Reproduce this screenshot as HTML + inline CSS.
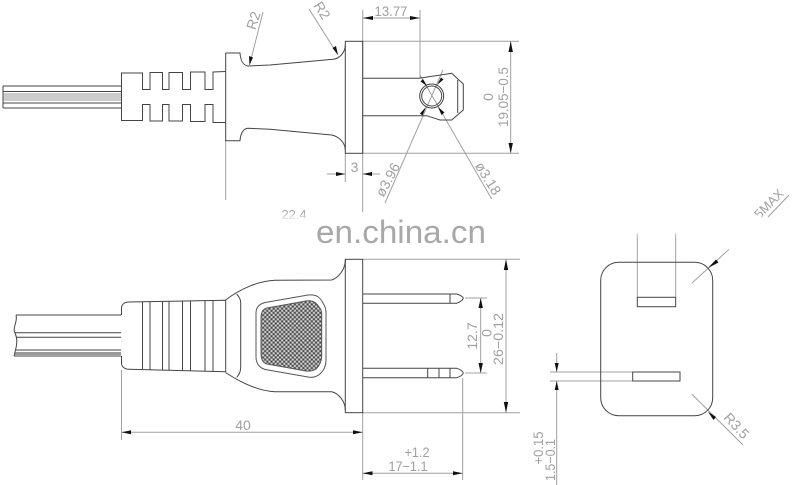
<!DOCTYPE html>
<html><head><meta charset="utf-8"><style>
html,body{margin:0;padding:0;background:#fff}
svg{display:block;filter:blur(.3px)}
text{font-family:"Liberation Sans",sans-serif;fill:#a0a0a0;text-anchor:middle}
</style></head><body>
<svg width="800" height="485" viewBox="0 0 800 485" xmlns="http://www.w3.org/2000/svg">
<defs>
<pattern id="m" width="3" height="3" patternUnits="userSpaceOnUse" patternTransform="rotate(45)">
<rect width="3" height="3" fill="#8a8a8a"/><rect width="1.500" height="1.500" fill="#444"/><rect x="1.500" y="1.500" width="1.500" height="1.500" fill="#ddd"/>
</pattern>
<radialGradient id="b"><stop offset="0" stop-color="#fff"/><stop offset=".7" stop-color="#fff"/><stop offset="1" stop-color="#fff" stop-opacity="0"/></radialGradient>
<linearGradient id="f" x1="0" y1="0" x2="0" y2="1"><stop offset="0" stop-color="#fff"/><stop offset="1" stop-color="#fff" stop-opacity="0"/></linearGradient>
<linearGradient id="u" x1="0" y1="0" x2="0" y2="1"><stop offset="0" stop-color="#fff" stop-opacity="0"/><stop offset="1" stop-color="#fff"/></linearGradient>
</defs>

<!-- thin gray dimension lines -->
<g fill="none" stroke="#a0a0a0" stroke-width="1">
<path d="M362.700 10V212M420 10V78M362.700 18H420M362.700 41.300H519M362.700 153.300H519M510.700 41.300V153.300"/>
<path d="M327 174H345.300M362.700 174H380M345.300 153V182M225.700 141V200"/>
<path d="M263 12L249.500 65M309 9L338 55M443 70L385 203M420 75L491.700 199"/>
<path d="M362.700 259.300H520M362.700 412.700H520M506 259.300V412.700M465 298H487M465 373H487M480.700 298V373"/>
<path d="M121.500 370V440M121.500 432.300H362.700M362.700 413V480M462.700 378V480M362.700 473.300H462.700"/>
<path d="M637.300 233V297M675.700 233V297M691.700 283.300L729 249.300M768 217L789 195M691.700 394L743 445"/>
<path d="M550 372H632.700M550 381H632.700M556.700 353V372M556.700 381V485"/>
</g>

<!-- top view -->
<g fill="none" stroke="#444" stroke-width="1">
<path d="M3 86H121M3 108H121M3 86V108M3 91.500H121M3 103H121"/>
<path d="M3 94H121M3 96H121M3 98H121M3 100H121" stroke="#777" stroke-width=".8"/>
<path d="M225.500 71.500L213 72V89.500H205V72H190.500V89.500H182.500V72.500H169V89.500H162.500V72.500H150V89.500H142.500V73H121.500V120.500H142.500V104.500H150V121H162.500V104.500H169V121H182.500V104.500H190.500V121.500H205V104.500H213V122.500H225.500"/>
<path d="M225.700 53V140.700H240C240.500 134 243 128.500 248 128.300L270 129.300L331.700 135C339 136.500 345.300 143 345.300 150"/>
<path d="M225.700 53H240C240.500 60 243 65.500 248 66L270 65L333.300 59.300C339 58.500 345.300 53 345.300 45"/>
<rect x="345.300" y="41.300" width="17.400" height="112"/>
<path d="M362.700 78.300H419L451.700 73.300L463.300 84V110L451.700 120H440L426.700 115.700H362.700"/>
<path d="M457.700 80V113"/>
<circle cx="431.700" cy="96" r="12"/><circle cx="431.700" cy="96" r="10"/>
</g>

<!-- side view -->
<g fill="none" stroke="#444" stroke-width="1">
<path d="M16 315H121M15 332.700H121M16 337.300H121M15 350H121M14 356H121"/>
<rect x="15" y="352" width="106" height="3" fill="#999" stroke="none"/>
<path d="M16 315C18 322 12 328 15 333C18 340 17 345 14 356"/>
<path d="M121.500 315V308C121.500 304 125 302 129 302L225.700 300.300V371.700L129 369.300C125 369.300 121.500 367 121.500 363V356"/>
<path d="M142.500 301.500V369.500M150 301.500V370M162.500 301.500V370M169 301.500V370.500M182.500 301V370.500M190.500 301V370.500M205 300.500V371M213 300.500V371"/>
<path d="M225.500 300C240 289 258 281 275 280.300L331.700 280C338 278 345.300 270 345.300 260"/>
<path d="M225.500 372.500C240 382 258 391 275 391.700L331.700 391.700C338 393 345.300 401 345.300 410"/>
<path d="M236.700 294C239 297 240.700 299 240.700 303V367C240.700 372 239 375 236.700 377.300"/>
<rect x="345.300" y="259.300" width="17.400" height="153.400"/>
<path d="M362.700 294H456.700C460 295 462.700 296.500 463.300 298.300C462.700 300.500 460 302 456.700 303.300H362.700M450 294V303.300"/>
<path d="M362.700 368.300H456.700C460 369.300 462.700 371 463.300 373C462.700 375 460 376.700 456.700 377.700H362.700M427.700 368.300V377.700M439 368.300V377.700M450 368.300V377.700"/>
<path d="M256 313C256 307 260 303 268 302L308 295C316 294 320 297 323 303C325 306 326 309 326 313V360C326 366 324 370 321 373C317 377 313 378 308 377L268 370C260 369 256 364 256 357Z" stroke="#555"/>
<path d="M261 318C261 312 263 309 267 308L306 301C312 300 316 302 319 307C321 309 321.700 311 321.700 314V356C321.700 362 319 366 316 369C313 371 310 371.500 306 371L267 364C263 363 261 359 261 353Z" fill="url(#m)" stroke="#555"/>
</g>

<!-- front view -->
<g fill="none" stroke="#444" stroke-width="1">
<rect x="600.700" y="262.300" width="112" height="153.400" rx="18" ry="18"/>
<rect x="637.300" y="297.300" width="38.400" height="9.400"/>
<rect x="632.700" y="372" width="47.300" height="9"/>
</g>

<!-- arrowheads -->
<g fill="#111">
<path d="M362.700 18L373 16V20ZM420 18L410 16V20Z"/>
<path d="M510.700 41.300L508.500 52H512.900ZM510.700 153.300L508.500 143H512.900Z"/>
<path d="M345.300 174L336 172V176ZM362.700 174L372 172V176Z"/>
<path d="M249.500 65L249 56L253 57.500Z"/>
<path d="M338 55L332.500 48L336 46Z"/>
<path d="M427 86L420.500 81.500L423 79ZM437 85L441 77.500L443.500 79.500ZM426 107L422.500 115.500L420 113.500ZM438 107L444.500 112.500L441.500 115Z"/>
<path d="M506 259.300L503.800 270H508.200ZM506 412.700L503.800 402H508.200Z"/>
<path d="M480.700 298L478.500 308H482.900ZM480.700 373L478.500 363H482.900Z"/>
<path d="M121.500 432.300L131 430.300V434.300ZM362.700 432.300L353 430.300V434.300Z"/>
<path d="M362.700 473.300L372.500 471.300V475.300ZM462.700 473.300L453 471.300V475.300Z"/>
<path d="M708 268L716 259.500L718.500 262.500ZM708 411.700L716 417L713.500 420Z"/>
<path d="M556.700 372L554.700 363H558.700ZM556.700 381L554.700 390H558.700Z"/>
</g>

<!-- faded blurs -->
<rect x="630" y="225" width="52" height="14" fill="url(#f)"/>
<rect x="722" y="232" width="14" height="20" fill="url(#f)"/>

<!-- labels -->
<g stroke="none">
<text x="391" y="16" font-size="14" textLength="33" lengthAdjust="spacingAndGlyphs">13.77</text>
<text x="354.500" y="172" font-size="14">3</text>
<text transform="translate(493,97) rotate(-90)" font-size="14">0</text>
<text transform="translate(508,97) rotate(-90)" font-size="14" textLength="60" lengthAdjust="spacingAndGlyphs">19.05−0.5</text>
<text transform="translate(258,22) rotate(-72)" font-size="14">R2</text>
<text transform="translate(318,13) rotate(58)" font-size="14">R2</text>
<text transform="translate(392,182) rotate(-62)" font-size="14" textLength="36" lengthAdjust="spacingAndGlyphs">ø3.96</text>
<text transform="translate(484,181) rotate(58)" font-size="14" textLength="36" lengthAdjust="spacingAndGlyphs">ø3.18</text>
<text x="243" y="430" font-size="14">40</text>
<text x="417" y="457" font-size="14" textLength="25" lengthAdjust="spacingAndGlyphs">+1.2</text>
<text x="408" y="471" font-size="14" textLength="39" lengthAdjust="spacingAndGlyphs">17−1.1</text>
<text transform="translate(477,336) rotate(-90)" font-size="14">12.7</text>
<text transform="translate(491.500,333) rotate(-90)" font-size="14">0</text>
<text transform="translate(503,339) rotate(-90)" font-size="14" textLength="52" lengthAdjust="spacingAndGlyphs">26−0.12</text>
<text transform="translate(543,448) rotate(-90)" font-size="14" textLength="33" lengthAdjust="spacingAndGlyphs">+0.15</text>
<text transform="translate(555,460) rotate(-90)" font-size="14" textLength="42" lengthAdjust="spacingAndGlyphs">1.5−0.1</text>
<text transform="translate(772,207) rotate(-45)" font-size="13">5MAX</text>
<text transform="translate(733,429) rotate(47)" font-size="14">R3.5</text>
<text x="294" y="219" font-size="13" style="fill:#aaa">22.4</text>
</g>
<rect x="278" y="213" width="34" height="8" fill="url(#u)"/>
<rect x="278" y="221" width="34" height="4" fill="#fff"/>
<rect x="750" y="214" width="14" height="12" fill="url(#b)"/>
<text x="401" y="243" font-size="32" textLength="170" lengthAdjust="spacingAndGlyphs" style="fill:#a8a8a8">en.china.cn</text>
</svg>
</body></html>
